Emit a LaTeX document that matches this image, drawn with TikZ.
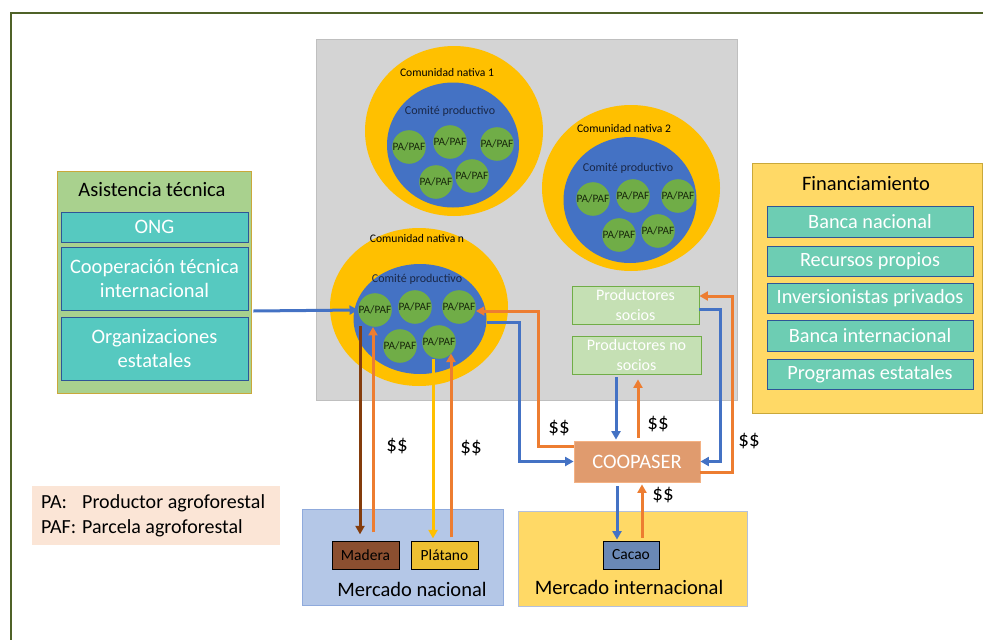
\documentclass[tikz,border=0pt]{standalone}
\usepackage{fontspec}
\setmainfont{Carlito}
\usetikzlibrary{shapes.geometric,arrows.meta,calc}
\definecolor{framecol}{HTML}{4F6228}
\definecolor{graybg}{HTML}{D4D4D4}
\definecolor{grayborder}{HTML}{BFBFBF}
\definecolor{yellowC}{HTML}{FFC000}
\definecolor{blueC}{HTML}{4472C4}
\definecolor{greenC}{HTML}{70AD47}
\definecolor{astfill}{HTML}{A9D18E}
\definecolor{goldborder}{HTML}{C9A83A}
\definecolor{tealA}{HTML}{56C9C0}
\definecolor{tealF}{HTML}{6DCDB3}
\definecolor{navyborder}{HTML}{2F5597}
\definecolor{finfill}{HTML}{FFD966}
\definecolor{prodfill}{HTML}{C5E0B4}
\definecolor{coopfill}{HTML}{E09B6E}
\definecolor{coopborder}{HTML}{F4B183}
\definecolor{mnfill}{HTML}{B4C7E7}
\definecolor{mnborder}{HTML}{8FAADC}
\definecolor{miborder}{HTML}{B4C0DC}
\definecolor{maderaC}{HTML}{8B4F30}
\definecolor{platanoC}{HTML}{EEC032}
\definecolor{cacaoC}{HTML}{6A88B5}
\definecolor{legendC}{HTML}{FBE5D6}
\definecolor{orangeC}{HTML}{ED7D31}
\definecolor{brownC}{HTML}{843C0C}
\definecolor{paText}{HTML}{18280C}
\definecolor{cpText}{HTML}{1A2848}
\begin{document}
\begin{tikzpicture}[x=1pt,y=-1pt,
  box/.style={draw, rectangle, inner sep=0pt, line width=0.8pt},
  yellowring/.style={ellipse, fill=yellowC, inner sep=0pt},
  blueell/.style={ellipse, fill=blueC, inner sep=0pt},
  pa/.style={circle, fill=greenC, minimum size=33, inner sep=0pt, text=paText, font=\fontsize{11.3}{13}\selectfont},
  cntext/.style={font=\fontsize{11.6}{13}\selectfont, text=black},
  cptext/.style={font=\fontsize{12}{14}\selectfont, text=cpText},
  subA/.style={box, fill=tealA, draw=navyborder, text=white, minimum width=187, align=center, font=\fontsize{20.5}{23.5}\selectfont},
  subF/.style={box, fill=tealF, draw=navyborder, text=white, minimum width=206, minimum height=30.5, font=\fontsize{20.3}{23}\selectfont},
  prod/.style={box, fill=prodfill, draw=greenC, text=white, minimum height=38, align=center, font=\fontsize{16}{19.5}\selectfont},
  prodbox/.style={box, text=black, minimum height=27.5, font=\fontsize{15.5}{17}\selectfont},
  arr/.style={line width=3pt, -{Triangle[length=8.5pt,width=9pt]}},
  money/.style={font=\fontsize{21}{24}\selectfont, text=black},
  title/.style={font=\fontsize{20.5}{24}\selectfont, text=black}
]
\useasboundingbox (0,0) rectangle (983,640);
\fill[white] (0,0) rectangle (983,640);
\draw[framecol, line width=1.4pt] (11,640) -- (11,13) -- (983,13);

% gray area
\node[box, fill=graybg, draw=grayborder, minimum width=421, minimum height=361] (gray) at (526.5,219.5) {};

% community 1
\node[yellowring, minimum width=178, minimum height=170] (cn1) at (454,131) {};
\node[blueell, minimum width=132, minimum height=125] (cp1) at (453,145) {};
\node[cntext] (cn1t) at (447,73) {Comunidad nativa 1};
\node[cptext] (cp1t) at (450,111) {Comité productivo};
\node[pa] (pa11) at (409,147) {PA/PAF};
\node[pa] (pa12) at (450,142) {PA/PAF};
\node[pa] (pa13) at (497,144) {PA/PAF};
\node[pa] (pa14) at (436,182) {PA/PAF};
\node[pa] (pa15) at (472,176) {PA/PAF};

% community 2
\node[yellowring, minimum width=178, minimum height=166] (cn2) at (631,188) {};
\node[blueell, minimum width=133, minimum height=126] (cp2) at (630,200) {};
\node[cntext] (cn2t) at (624,129) {Comunidad nativa 2};
\node[cptext] (cp2t) at (628,168) {Comité productivo};
\node[pa] (pa21) at (593,199) {PA/PAF};
\node[pa] (pa22) at (633,196) {PA/PAF};
\node[pa] (pa23) at (678,196) {PA/PAF};
\node[pa] (pa24) at (619,235) {PA/PAF};
\node[pa] (pa25) at (658,231) {PA/PAF};

% community n
\node[yellowring, minimum width=178, minimum height=158] (cnn) at (419,307) {};
\node[blueell, minimum width=133, minimum height=110] (cpn) at (420,319) {};
\node[cntext] (cnnt) at (417,239) {Comunidad nativa n};
\node[cptext] (cpnt) at (417,279) {Comité productivo};
\node[pa] (pan1) at (375,310) {PA/PAF};
\node[pa] (pan2) at (415,307) {PA/PAF};
\node[pa] (pan3) at (459,307) {PA/PAF};
\node[pa] (pan4) at (400,346) {PA/PAF};
\node[pa] (pan5) at (439,342) {PA/PAF};

% productores
\node[prod, minimum width=127] (psoc) at (635.5,305) {Productores\\socios};
\node[prod, minimum width=129] (pno) at (636.5,355) {Productores no\\socios};

% asistencia tecnica
\node[box, fill=astfill, draw=goldborder, minimum width=194, minimum height=222] (ast) at (154,282) {};
\node[title] (astt) at (152,190) {Asistencia técnica};
\node[subA, minimum height=30] (ong) at (154.5,227) {ONG};
\node[subA, minimum height=63] (coopt) at (154.5,278.5) {Cooperación técnica\\internacional};
\node[subA, minimum height=63] (orge) at (154.5,348.5) {Organizaciones\\estatales};

% financiamiento
\node[box, fill=finfill, draw=goldborder, minimum width=230, minimum height=250] (fin) at (867,288) {};
\node[title] (fint) at (866,184) {Financiamiento};
\node[subF] (bn) at (870,222) {Banca nacional};
\node[subF] (rp) at (870,261.5) {Recursos propios};
\node[subF] (ip) at (870,298.5) {Inversionistas privados};
\node[subF] (bi) at (870,336) {Banca internacional};
\node[subF] (pe) at (870,374.5) {Programas estatales};

% COOPASER
\node[box, fill=coopfill, draw=coopborder, minimum width=126, minimum height=41, text=white, font=\fontsize{20.5}{24}\selectfont] (coop) at (637,461.5) {COOPASER};

% markets
\node[box, fill=mnfill, draw=mnborder, minimum width=201, minimum height=96] (mn) at (402.5,557) {};
\node[title] (mnt) at (412,589) {Mercado nacional};
\node[prodbox, fill=maderaC, minimum width=67] (madera) at (365.5,555.5) {Madera};
\node[prodbox, fill=platanoC, minimum width=67] (platano) at (444.5,555.5) {Plátano};

\node[box, fill=finfill, draw=miborder, minimum width=229, minimum height=95] (mi) at (632.5,558.5) {};
\node[title] (mit) at (629,587) {Mercado internacional};
\node[prodbox, fill=cacaoC, minimum width=56, minimum height=28] (cacao) at (631,555) {Cacao};

% legend
\node[rectangle, fill=legendC, minimum width=248, minimum height=59, inner sep=0pt] (leg) at (156,515.5) {};
\node[anchor=west, font=\fontsize{20}{25}\selectfont, align=left, inner sep=0pt] (legt) at (41,515.5)
  {\makebox[41pt][l]{PA:}Productor agroforestal\\\makebox[41pt][l]{PAF:}Parcela agroforestal};

% arrows
\draw[arr, blueC] ($(ast.east)+(2,29)$) -- (pan1.west);

\draw[arr, brownC] ($(pan1.center)+(-15,16)$) -- ($(madera.north)+(-5.5,-7)$);
\coordinate (o1s) at ($(madera.north)+(7.5,-9)$);
\draw[arr, orangeC] (o1s) -- (o1s |- pan1.south);
\node[money] (m1) at (397,446) {\$\$};

\coordinate (y1s) at ($(pan5.south)+(-6,0)$);
\draw[arr, yellowC] (y1s) -- ($(y1s |- platano.north)+(0,-3)$);
\coordinate (o2s) at ($(platano.north)+(6.5,-4)$);
\coordinate (o2e) at ($(pan5.center)+(0,11.5)$);
\draw[arr, orangeC] (o2s) -- (o2s |- o2e);
\node[money] (m2) at (471,448) {\$\$};

\draw[arr, blueC] ($(cpn.east)+(0,3)$) -- ++(33,0) |- (coop.west);
\draw[arr, orangeC] ($(coop.west)+(0,-15.5)$) -- ++(-35,0) |- ($(pan3.east)+(0,4)$);
\node[money] (m3) at (559,428) {\$\$};

\coordinate (b7s) at ($(pno.south)+(-20.5,3)$);
\draw[arr, blueC] (b7s) -- ($(b7s |- coop.north)+(0,-1)$);
\coordinate (o8s) at ($(coop.north)+(1,-3)$);
\draw[arr, orangeC] (o8s) -- ($(o8s |- pno.south)+(0,5)$);
\node[money] (m4) at (658,424) {\$\$};

\draw[arr, blueC] ($(psoc.east)+(0,4)$) -- ++(21,0) |- (coop.east);
\draw[arr, orangeC] ($(coop.east)+(0,10.5)$) -- ++(32,0) |- ($(psoc.east)+(0,-9)$);
\node[money] (m5) at (749,441) {\$\$};

\coordinate (b11s) at ($(coop.south)+(-20,4)$);
\draw[arr, blueC] (b11s) -- ($(b11s |- cacao.north)+(0,-1)$);
\coordinate (o12s) at ($(cacao.north)+(11,-3)$);
\draw[arr, orangeC] (o12s) -- ($(o12s |- coop.south)+(0,2)$);
\node[money] (m6) at (663,495) {\$\$};
\end{tikzpicture}
\end{document}
